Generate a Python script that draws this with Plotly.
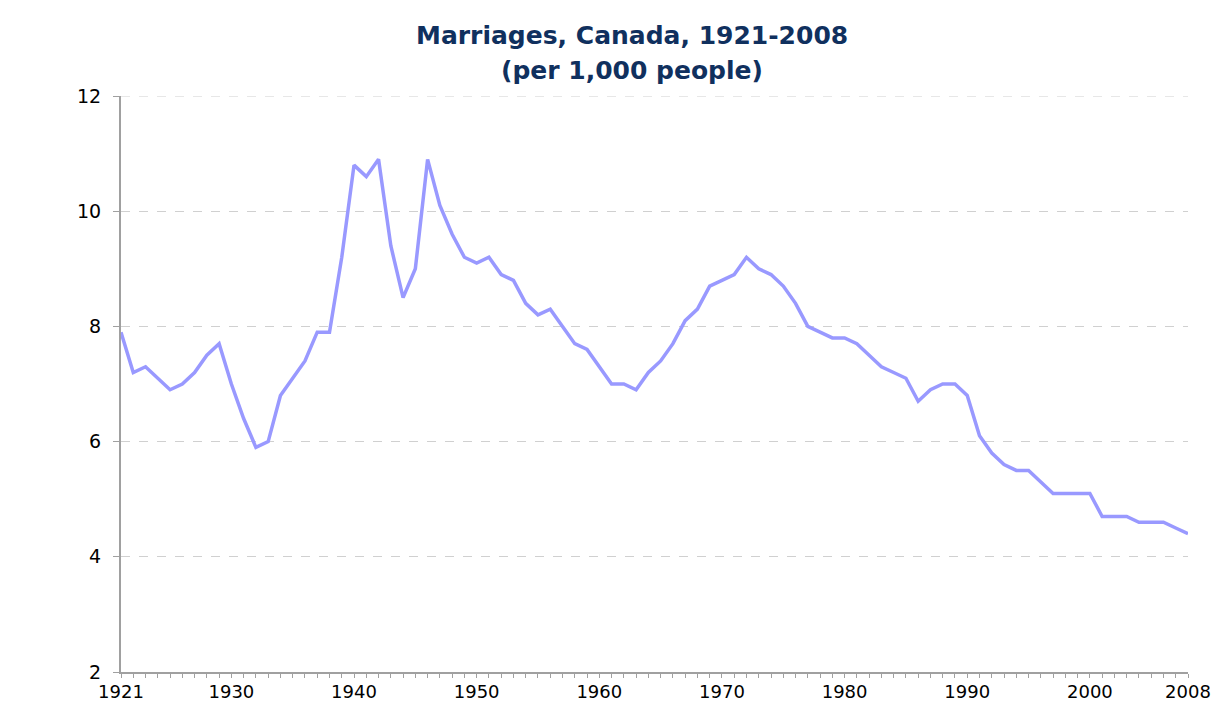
import plotly.graph_objects as go

years = list(range(1921, 2009))
rates = [7.9, 7.2, 7.3, 7.1, 6.9, 7.0, 7.2, 7.5, 7.7, 7.0,
         6.4, 5.9, 6.0, 6.8, 7.1, 7.4, 7.9, 7.9, 9.2, 10.8,
         10.6, 10.9, 9.4, 8.5, 9.0, 10.9, 10.1, 9.6, 9.2, 9.1,
         9.2, 8.9, 8.8, 8.4, 8.2, 8.3, 8.0, 7.7, 7.6, 7.3,
         7.0, 7.0, 6.9, 7.2, 7.4, 7.7, 8.1, 8.3, 8.7, 8.8,
         8.9, 9.2, 9.0, 8.9, 8.7, 8.4, 8.0, 7.9, 7.8, 7.8,
         7.7, 7.5, 7.3, 7.2, 7.1, 6.7, 6.9, 7.0, 7.0, 6.8,
         6.1, 5.8, 5.6, 5.5, 5.5, 5.3, 5.1, 5.1, 5.1, 5.1,
         4.7, 4.7, 4.7, 4.6, 4.6, 4.6, 4.5, 4.4]
x_tick_labels = [1921, 1930, 1940, 1950, 1960, 1970, 1980, 1990, 2000, 2008]
y_ticks = [2, 4, 6, 8, 10, 12]
title_line1 = "Marriages, Canada, 1921-2008"
title_line2 = "(per 1,000 people)"

W, H = 1209, 694
L, R, T, B = 113, 29, 88, 30
pw, ph = W - L - R, H - T - B

fig = go.Figure()
fig.add_trace(go.Scatter(x=years, y=rates, mode="lines",
                         line=dict(color="#9999FF", width=3.5),
                         showlegend=False))

fig.update_layout(
    width=W, height=H,
    margin=dict(l=L, r=R, t=T, b=B, autoexpand=False),
    paper_bgcolor="white", plot_bgcolor="white",
)
# top gridline (plotly drops the gridline at the range edge)
fig.add_shape(type="line", xref="paper", yref="y", x0=0, x1=1,
              y0=y_ticks[-1], y1=y_ticks[-1],
              line=dict(color="#D0D0D0", width=1, dash="dash"), layer="below")

title_font = dict(family="DejaVu Sans", size=25, color="#10305E")
fig.add_annotation(text="<b>" + title_line1 + "</b>", xref="paper", yref="paper",
                   x=(624 - L) / pw, y=1 + (T - 28) / ph,
                   xanchor="center", yanchor="middle", showarrow=False,
                   font=title_font)
fig.add_annotation(text="<b>" + title_line2 + "</b>", xref="paper", yref="paper",
                   x=(624 - L) / pw, y=1 + (T - 62) / ph,
                   xanchor="center", yanchor="middle", showarrow=False,
                   font=title_font)

fig.update_xaxes(range=[1921, 2008], tickvals=x_tick_labels,
                 ticktext=[str(v) for v in x_tick_labels],
                 automargin=False,
                 showgrid=False, zeroline=False,
                 showline=True, linecolor="#A0A0A0", linewidth=2,
                 ticks="outside", ticklen=4, tickcolor="#A0A0A0",
                 ticklabelstandoff=-2,
                 minor=dict(tick0=1921, dtick=1, ticks="outside", ticklen=4,
                            tickcolor="#A0A0A0", showgrid=False),
                 tickfont=dict(family="DejaVu Sans", size=18, color="black"))
fig.update_yaxes(range=[2, 12], tickvals=y_ticks,
                 automargin=False,
                 showgrid=True, gridcolor="#D0D0D0", griddash="dash", gridwidth=1,
                 zeroline=False,
                 showline=True, linecolor="#A0A0A0", linewidth=2,
                 ticks="outside", ticklen=6, tickcolor="#A0A0A0",
                 ticklabelstandoff=8,
                 tickfont=dict(family="DejaVu Sans", size=19, color="black"))

fig.write_html("out.html")
